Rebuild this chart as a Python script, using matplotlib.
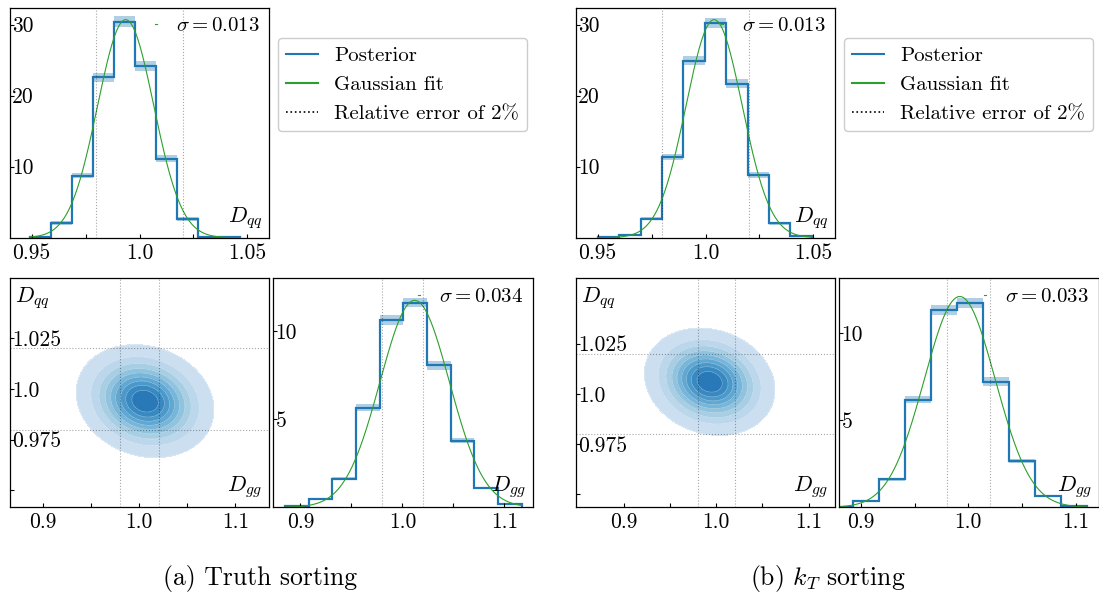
import numpy as np
import matplotlib.pyplot as plt
from matplotlib.lines import Line2D
from matplotlib.colors import ListedColormap

plt.rcParams['font.family'] = 'cmr10'
plt.rcParams['mathtext.fontset'] = 'cm'
plt.rcParams['axes.formatter.use_mathtext'] = True

# ---- values ----
# (a) truth sorting
a_qq_edges = [0.9492, 0.9590, 0.9687, 0.9785, 0.9882, 0.9980, 1.0077, 1.0175, 1.0272, 1.0370, 1.0467]
a_qq_vals = [0.1, 2.1, 8.75, 22.6, 30.4, 24.2, 11.1, 2.6, 0.15, 0.05]
a_qq_err = [0.05, 0.25, 0.4, 0.65, 0.75, 0.68, 0.5, 0.25, 0.05, 0.05]
a_qq_mu, a_qq_sigma = 0.9936, 0.013

a_gg_edges = [0.8848, 0.9080, 0.9312, 0.9544, 0.9776, 1.0008, 1.0240, 1.0472, 1.0704, 1.0936, 1.1168]
a_gg_vals = [0.08, 0.45, 1.62, 5.64, 10.6, 11.6, 8.04, 3.78, 1.09, 0.2]
a_gg_err = [0.02, 0.06, 0.1, 0.2, 0.28, 0.26, 0.25, 0.15, 0.08, 0.03]
a_gg_mu, a_gg_sigma = 1.012, 0.034

# 2d posterior (centre, widths, correlation)
a_kde = dict(mx=1.006, my=0.994, sx=0.0293, sy=0.0114, rho=-0.15)

# (b) kT sorting
b_qq_edges = [0.9500, 0.9600, 0.9699, 0.9798, 0.9898, 0.9997, 1.0096, 1.0195, 1.0294, 1.0393, 1.0493]
b_qq_vals = [0.1, 0.45, 2.7, 11.4, 24.9, 30.2, 21.7, 8.8, 2.0, 0.2]
b_qq_err = [0.05, 0.1, 0.25, 0.45, 0.65, 0.75, 0.6, 0.45, 0.25, 0.05]
b_qq_mu, b_qq_sigma = 1.004, 0.013

b_gg_edges = [0.8681, 0.8923, 0.9165, 0.9407, 0.9649, 0.9891, 1.0133, 1.0375, 1.0617, 1.0859, 1.1101]
b_gg_vals = [0.03, 0.38, 1.6, 6.17, 11.3, 11.7, 7.2, 2.66, 0.65, 0.1]
b_gg_err = [0.02, 0.05, 0.1, 0.2, 0.28, 0.28, 0.25, 0.13, 0.06, 0.02]
b_gg_mu, b_gg_sigma = 0.992, 0.033

b_kde = dict(mx=0.993, my=1.006, sx=0.0288, sy=0.0109, rho=-0.15)

rel_err = [0.98, 1.02]

W, H = 1099, 598
fig = plt.figure(figsize=(W / 100, H / 100), dpi=100)

TICK_FS = 15.5
LAB_FS = 16


def px_axes(x0, x1, y0, y1):
    # pixel box (left, right, top, bottom) -> figure axes
    return fig.add_axes([x0 / W, 1 - y1 / H, (x1 - x0) / W, (y1 - y0) / H])


def style(ax, xticks, xlabels, yticks, ylabels):
    ax.tick_params(direction='in', length=3, width=0.8, labelsize=TICK_FS)
    ax.tick_params(axis='x', pad=4)
    ax.tick_params(axis='y', pad=-1.5)
    ax.set_xticks(xticks)
    ax.set_xticklabels(xlabels)
    ax.set_yticks(yticks)
    ax.set_yticklabels(ylabels)
    for lab in ax.get_yticklabels():
        lab.set_horizontalalignment('left')
    for s in ax.spines.values():
        s.set_linewidth(0.9)


def hist_panel(ax, edges, vals, err, mu, sigma, name, xlim, ylim, xticks, xlabels, yticks):
    edges = np.asarray(edges)
    vals = np.asarray(vals)
    err = np.asarray(err)
    ax.bar(edges[:-1], 2 * err, bottom=vals - err, width=np.diff(edges), align='edge',
           color='C0', alpha=0.35, lw=0)
    ax.stairs(vals, edges, color='C0', lw=1.6, baseline=0)
    xs = np.linspace(edges[0], edges[-1], 400)
    ax.plot(xs, np.exp(-0.5 * ((xs - mu) / sigma) ** 2) / (np.sqrt(2 * np.pi) * sigma),
            color='C2', lw=0.8)
    for v in rel_err:
        ax.axvline(v, color='k', ls=':', lw=0.8, alpha=0.35)
    ax.set_xlim(xlim)
    ax.set_ylim(ylim)
    style(ax, xticks, xlabels, yticks, [str(t) for t in yticks])
    ax.legend([Line2D([], [], color='C2', lw=0.8)], [r'$\sigma=$' + f'{sigma:.3f}'],
              loc='upper right', frameon=False, handlelength=0.1, handletextpad=0.9,
              fontsize=15, borderaxespad=0.05)
    ax.text(0.975, 0.03, name, transform=ax.transAxes, ha='right', va='bottom', fontsize=LAB_FS)


kde_colors = ListedColormap(plt.cm.Blues(np.linspace(0.22, 0.72, 9)))


def kde_panel(ax, p, xlim, ylim):
    gx = np.linspace(xlim[0], xlim[1], 400)
    gy = np.linspace(ylim[0], ylim[1], 400)
    X, Y = np.meshgrid(gx, gy)
    zx = (X - p['mx']) / p['sx']
    zy = (Y - p['my']) / p['sy']
    r = p['rho']
    Z = np.exp(-(zx ** 2 - 2 * r * zx * zy + zy ** 2) / (2 * (1 - r ** 2)))
    levels = np.linspace(0.05, 1.0, 10)
    ax.contourf(X, Y, Z, levels=levels, cmap=kde_colors)
    ax.contour(X, Y, Z, levels=levels[:-1], colors='white', linewidths=0.4, alpha=0.5)
    for v in rel_err:
        ax.axvline(v, color='k', ls=':', lw=0.8, alpha=0.35)
        ax.axhline(v, color='k', ls=':', lw=0.8, alpha=0.35)
    ax.set_xlim(xlim)
    ax.set_ylim(ylim)
    style(ax, [0.9, 0.95, 1.0, 1.05, 1.1], ['0.9', '', '1.0', '', '1.1'],
          [0.95, 0.975, 1.0, 1.025], ['', '0.975', '1.0', '1.025'])
    ax.text(0.02, 0.97, r'$D_{qq}$', transform=ax.transAxes, ha='left', va='top', fontsize=LAB_FS)
    ax.text(0.975, 0.03, r'$D_{gg}$', transform=ax.transAxes, ha='right', va='bottom', fontsize=LAB_FS)


legend_handles = [Line2D([], [], color='C0', lw=1.5),
                  Line2D([], [], color='C2', lw=1.5),
                  Line2D([], [], color='k', ls=':', lw=1.2)]
legend_labels = ['Posterior', 'Gaussian fit', 'Relative error of 2%']

qq_ticks = [0.95, 0.975, 1.0, 1.025, 1.05]
qq_labels = ['0.95', '', '1.0', '', '1.05']
gg_ticks = [0.9, 0.95, 1.0, 1.05, 1.1]
gg_labels = ['0.9', '', '1.0', '', '1.1']

panels = [
    dict(x=0, qq=(a_qq_edges, a_qq_vals, a_qq_err, a_qq_mu, a_qq_sigma),
         gg=(a_gg_edges, a_gg_vals, a_gg_err, a_gg_mu, a_gg_sigma), kde=a_kde,
         gg_xlim=(0.8734, 1.1275), gg_ylim=(0, 13.0),
         kde_xlim=(0.8653, 1.1351), kde_ylim=(0.9416, 1.0548),
         caption='(a) Truth sorting', cap_x=260),
    dict(x=566, qq=(b_qq_edges, b_qq_vals, b_qq_err, b_qq_mu, b_qq_sigma),
         gg=(b_gg_edges, b_gg_vals, b_gg_err, b_gg_mu, b_gg_sigma), kde=b_kde,
         gg_xlim=(0.8800, 1.1210), gg_ylim=(0, 13.15),
         kde_xlim=(0.8487, 1.1283), kde_ylim=(0.9436, 1.0576),
         caption=r'(b) $k_T$ sorting', cap_x=828),
]

for p in panels:
    x = p['x']
    ax_qq = px_axes(10 + x, 269 + x, 7.5, 237.7)
    hist_panel(ax_qq, *p['qq'], r'$D_{qq}$', (0.94, 1.06), (0, 32.4),
               qq_ticks, qq_labels, [10, 20, 30])

    ax_kde = px_axes(10 + x, 269 + x, 278, 507.3)
    kde_panel(ax_kde, p['kde'], p['kde_xlim'], p['kde_ylim'])

    ax_gg = px_axes(273.3 + x, 532.5 + x, 278, 507.3)
    hist_panel(ax_gg, *p['gg'], r'$D_{gg}$', p['gg_xlim'], p['gg_ylim'],
               gg_ticks, gg_labels, [5, 10])

    fig.legend(legend_handles, legend_labels, loc='upper left',
               bbox_to_anchor=((278 + x) / W, 1 - 38 / H), borderaxespad=0,
               fontsize=15, handlelength=1.5, framealpha=1, labelspacing=0.5)

    fig.text(p['cap_x'] / W, 1 - 578 / H, p['caption'], ha='center', va='center', fontsize=18.5)

fig.savefig('out.png', dpi=100)
